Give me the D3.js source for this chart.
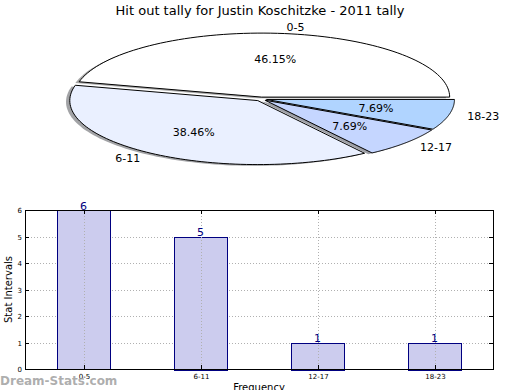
<!DOCTYPE html>
<html><head><meta charset="utf-8">
<script src="https://cdn.jsdelivr.net/npm/d3@7"></script>
<style>body{margin:0;background:#fff}svg{display:block;font-family:"DejaVu Sans",sans-serif}</style>
</head><body>
<svg id="c" width="520" height="390"></svg>
<script>
const title = "Hit out tally for Justin Koschitzke - 2011 tally";
const categories = ["0-5", "6-11", "12-17", "18-23"];
const counts = [6, 5, 1, 1];
const pctLabels = ["46.15%", "38.46%", "7.69%", "7.69%"];
const sliceColors = ["#ffffff", "#eaf0ff", "#c5d6ff", "#b0d4ff"];
const yTicks = [0, 1, 2, 3, 4, 5, 6];

const svg = d3.select("#c");
svg.append("text").attr("x", 260).attr("y", 15).attr("text-anchor", "middle")
  .attr("font-size", 13).text(title);

// ---- Pie (elliptical) ----
const cx = 261, cy = 99, rx = 188, ry = 64, explode = 0.03;
const total = d3.sum(counts);
const ang = d3.scaleLinear().domain([0, total]).range([0, 2 * Math.PI]);
let acc = 0;
const slices = counts.map((v, i) => {
  const a0 = ang(acc); acc += v; const a1 = ang(acc);
  return {i, a0, a1, mid: (a0 + a1) / 2};
});
function wedgePath(s, ox, oy) {
  const x0 = cx + ox + explode * rx * Math.cos(s.mid);
  const y0 = cy + oy - explode * ry * Math.sin(s.mid);
  const p = d3.path();
  p.moveTo(x0, y0);
  const n = 80;
  for (let k = 0; k <= n; k++) {
    const a = s.a0 + (s.a1 - s.a0) * k / n;
    p.lineTo(x0 + rx * Math.cos(a), y0 - ry * Math.sin(a));
  }
  p.closePath();
  return p.toString();
}
const pie = svg.append("g");
// shadows
slices.forEach(s => {
  const c = d3.color(sliceColors[s.i]);
  const sc = d3.rgb(c.r * 0.3, c.g * 0.3, c.b * 0.3);
  pie.append("path").attr("d", wedgePath(s, -0.02 * rx, 0.02 * ry))
    .attr("fill", sc).attr("fill-opacity", 0.5).attr("stroke", "none");
});
slices.forEach(s => {
  pie.append("path").attr("d", wedgePath(s, 0, 0))
    .attr("fill", sliceColors[s.i]).attr("stroke", "#000").attr("stroke-width", 1)
    .attr("stroke-linejoin", "round");
});
slices.forEach(s => {
  const ex = explode * rx * Math.cos(s.mid), ey = -explode * ry * Math.sin(s.mid);
  const lx = cx + ex + 1.1 * rx * Math.cos(s.mid), ly = cy + ey - 1.1 * ry * Math.sin(s.mid);
  pie.append("text").attr("x", lx).attr("y", ly).attr("dy", "0.35em")
    .attr("text-anchor", Math.cos(s.mid) > 0 ? "start" : "end")
    .attr("font-size", 11).text(categories[s.i]);
  const px = cx + ex + 0.6 * rx * Math.cos(s.mid), py = cy + ey - 0.6 * ry * Math.sin(s.mid);
  pie.append("text").attr("x", px).attr("y", py).attr("dy", "0.35em")
    .attr("text-anchor", "middle").attr("font-size", 11).text(pctLabels[s.i]);
});

// ---- Bar chart ----
const L = 25, R = 493, T = 210, B = 369;
const x = d3.scaleLinear().domain([-0.5, categories.length - 0.5]).range([L, R]);
const y = d3.scaleLinear().domain([0, 6]).range([B, T]);
const barW = 0.45;
const g = svg.append("g");
const gridStyle = sel => sel.attr("stroke", "#b0b0b0").attr("stroke-width", 1).attr("stroke-dasharray", "1,2");
// horizontal grid
yTicks.forEach(t => {
  g.append("line").attr("x1", L).attr("x2", R).attr("y1", Math.round(y(t)) + 0.5).attr("y2", Math.round(y(t)) + 0.5).call(gridStyle);
});
// bars
categories.forEach((c, i) => {
  const x0 = x(i - barW / 2), x1 = x(i + barW / 2);
  g.append("rect").attr("x", Math.round(x0) + 0.5).attr("y", Math.round(y(counts[i])) + 0.5)
    .attr("width", Math.round(x1 - x0)).attr("height", Math.round(y(0) - y(counts[i])))
    .attr("fill", "#ccccee").attr("stroke", "#000080").attr("stroke-width", 1);
});
// vertical grid
categories.forEach((c, i) => {
  g.append("line").attr("x1", Math.round(x(i)) + 0.5).attr("x2", Math.round(x(i)) + 0.5).attr("y1", T).attr("y2", B).call(gridStyle);
});
// bar labels
categories.forEach((c, i) => {
  g.append("text").attr("x", x(i)).attr("y", y(counts[i]) - 0.5).attr("text-anchor", "middle")
    .attr("font-size", 11).attr("fill", "#000080").text(counts[i]);
});
// frame
g.append("rect").attr("x", L + 0.5).attr("y", T + 0.5).attr("width", R - L).attr("height", B - T)
  .attr("fill", "none").attr("stroke", "#000").attr("stroke-width", 1);
// y ticks
yTicks.forEach(t => {
  const yy = Math.round(y(t)) + 0.5;
  g.append("line").attr("x1", L).attr("x2", L + 4).attr("y1", yy).attr("y2", yy).attr("stroke", "#000");
  g.append("line").attr("x1", R - 4).attr("x2", R).attr("y1", yy).attr("y2", yy).attr("stroke", "#000");
  g.append("text").attr("x", L - 3).attr("y", yy).attr("dy", "0.35em").attr("text-anchor", "end")
    .attr("font-size", 7).text(t);
});
// x ticks
categories.forEach((c, i) => {
  const xx = Math.round(x(i)) + 0.5;
  g.append("line").attr("x1", xx).attr("x2", xx).attr("y1", B - 4).attr("y2", B).attr("stroke", "#000");
  g.append("line").attr("x1", xx).attr("x2", xx).attr("y1", T).attr("y2", T + 4).attr("stroke", "#000");
  g.append("text").attr("x", xx).attr("y", B + 10).attr("text-anchor", "middle")
    .attr("font-size", 7).text(c);
});
svg.append("text").attr("transform", "translate(12," + ((T + B) / 2) + ") rotate(-90)")
  .attr("text-anchor", "middle").attr("font-size", 10).text("Stat Intervals");
svg.append("text").attr("x", (L + R) / 2).attr("y", 391).attr("text-anchor", "middle")
  .attr("font-size", 10).text("Frequency");
svg.append("text").attr("x", 0).attr("y", 385).attr("font-size", 12).attr("font-weight", "bold")
  .attr("fill", "#a0a0a0").attr("fill-opacity", 0.85).text("Dream-Stats.com");
</script>
</body></html>
